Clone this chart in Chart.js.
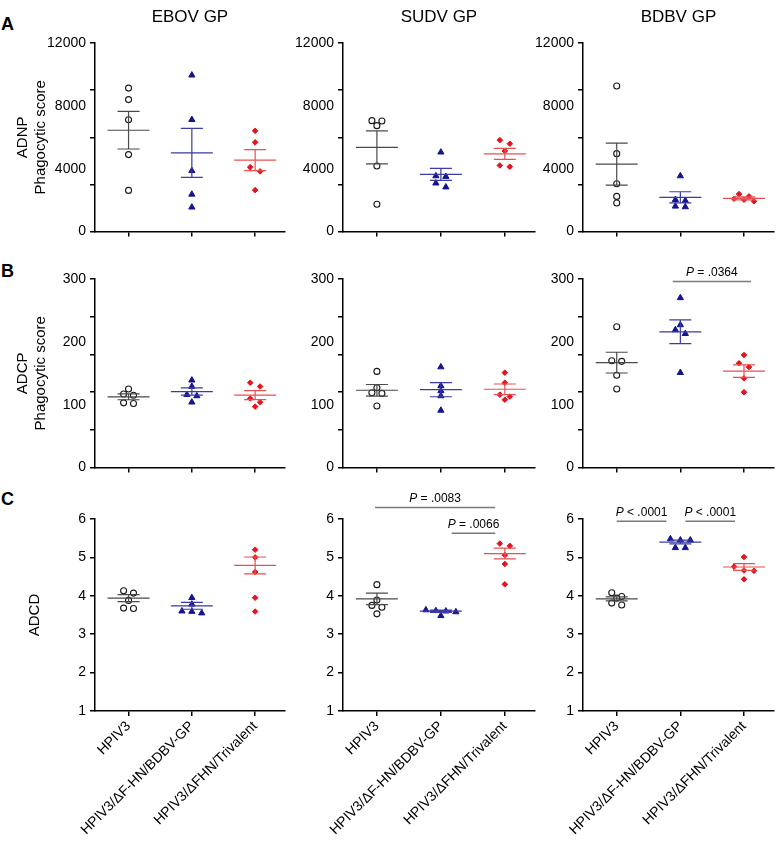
<!DOCTYPE html>
<html>
<head>
<meta charset="utf-8">
<title>ADNP / ADCP / ADCD</title>
<script src="https://cdn.jsdelivr.net/npm/chart.js@4.4.1/dist/chart.umd.min.js"></script>
<style>
  body { margin: 0; background: #fff; }
  #fig { position: relative; width: 779px; height: 841px; overflow: hidden; }
  #fig canvas { position: absolute; }
  .tag { position: absolute; left: 1px; font: bold 18px "Liberation Sans", Arial, sans-serif; }
</style>
</head>
<body>
<div id="fig">
  <div class="tag" style="top:14px">A</div>
  <div class="tag" style="top:261px">B</div>
  <div class="tag" style="top:489px">C</div>

  <canvas id="a1" width="290" height="244" style="left:0px;top:0px"></canvas>
  <canvas id="a2" width="250" height="244" style="left:290px;top:0px"></canvas>
  <canvas id="a3" width="249" height="244" style="left:530px;top:0px"></canvas>
  <canvas id="b1" width="290" height="230" style="left:0px;top:250px"></canvas>
  <canvas id="b2" width="250" height="230" style="left:290px;top:250px"></canvas>
  <canvas id="b3" width="249" height="230" style="left:530px;top:250px"></canvas>
  <canvas id="c1" width="290" height="361" style="left:0px;top:480px"></canvas>
  <canvas id="c2" width="250" height="361" style="left:290px;top:480px"></canvas>
  <canvas id="c3" width="249" height="361" style="left:530px;top:480px"></canvas>
</div>
<script>
Chart.defaults.font.family = '"Liberation Sans", Arial, sans-serif';
Chart.defaults.color = '#000';
Chart.defaults.animation = false;

// groups on the x axis, viruses across the columns
const groupNames = ['HPIV3', 'HPIV3/ΔF-HN/BDBV-GP', 'HPIV3/ΔFHN/Trivalent'];
const virusNames = ['EBOV GP', 'SUDV GP', 'BDBV GP'];

// y axes : labelled values and tick marks (they are not the same on A and B)
const adnpTickLabels = [0, 4000, 8000, 12000];
const adnpTickMarks = [0, 3000, 6000, 9000, 12000];
const adcpTickLabels = [0, 100, 200, 300];
const adcpTickMarks = [0, 60, 120, 180, 240, 300];
const adcdTickLabels = [1, 2, 3, 4, 5, 6];
const adcdTickMarks = [1, 2, 3, 4, 5, 6];

// ADNP phagocytic score (5 animals per group)
const adnpEbov = [[9130, 8400, 7120, 4900, 2620], [9950, 7120, 3870, 2370, 1550], [6410, 5680, 4100, 3830, 2640]];
const adnpEbovMean = [6450, 5010, 4545];
const adnpEbovSem = [1195, 1560, 670];
const adnpSudv = [[7060, 6740, 7040, 4170, 1740], [5050, 3500, 3540, 3080, 2830], [5820, 5590, 5130, 4130, 4210]];
const adnpSudvMean = [5360, 3645, 4945];
const adnpSudvSem = [1050, 380, 355];
const adnpBdbv = [[9260, 4960, 3040, 2240, 1820], [3540, 1970, 2030, 1570, 1610], [2240, 1930, 2090, 2390, 2030]];
const adnpBdbvMean = [4295, 2180, 2115];
const adnpBdbvSem = [1340, 355, 100];

// ADCP phagocytic score
const adcpEbov = [[125, 117, 115, 103, 102], [139, 129, 116, 114, 104], [135, 129, 110, 104, 97]];
const adcpEbovMean = [112.6, 121, 115.2];
const adcpEbovSem = [4.7, 5.8, 7.1];
const adcpSudv = [[153, 127, 119, 118, 98], [160, 130, 122, 114, 91], [151, 135, 116, 113, 108]];
const adcpSudvMean = [123, 124, 124.6];
const adcpSudvSem = [9.2, 11.3, 8.4];
const adcpBdbv = [[224, 169, 170, 147, 125], [270, 227, 219, 213, 151], [179, 166, 160, 142, 120]];
const adcpBdbvMean = [167, 216, 153.4];
const adcpBdbvSem = [16.5, 18.9, 10];

// ADCD
const adcdEbov = [[4.13, 4.07, 3.88, 3.67, 3.68], [3.95, 3.78, 3.60, 3.59, 3.55], [5.20, 5.00, 4.62, 3.95, 3.59]];
const adcdEbovMean = [3.94, 3.74, 4.79];
const adcdEbovSem = [0.09, 0.09, 0.22];
const adcdSudv = [[4.29, 3.89, 3.75, 3.70, 3.53], [3.63, 3.61, 3.60, 3.58, 3.48], [5.36, 5.30, 5.06, 4.83, 4.30]];
const adcdSudvMean = [3.92, 3.60, 5.10];
const adcdSudvSem = [0.15, 0.03, 0.14];
const adcdBdbv = [[4.08, 3.98, 3.94, 3.81, 3.76], [5.45, 5.48, 5.45, 5.25, 5.25], [5.01, 4.76, 4.66, 4.65, 4.43]];
const adcdBdbvMean = [3.92, 5.40, 4.75];
const adcdBdbvSem = [0.05, 0.05, 0.09];

// significance brackets (from / to on the group axis, level on the y axis)
const adcpBdbvP = [{ from: 1.88, to: 3.11, level: 296, op: '=', p: '.0364' }];
const adcdSudvP = [
  { from: 0.97, to: 2.85, level: 6.30, op: '=', p: '.0083' },
  { from: 2.17, to: 2.85, level: 5.63, op: '=', p: '.0066' }
];
const adcdBdbvP = [
  { from: 1.0, to: 1.78, level: 5.94, op: '<', p: '.0001' },
  { from: 2.08, to: 2.86, level: 5.94, op: '<', p: '.0001' }
];

// ---- styles / layout ----
const PLOT_H = 191;   // plot height in px, same on every row
const CAT_PX = 64;    // px between two groups
const ROW_PX = 4.5;   // points closer than this share a row
const STEP_PX = 10;   // horizontal step between points of a row

const markerStyles = [
  { pointStyle: 'circle', pointRadius: 3, pointBackgroundColor: '#fff', pointBorderColor: '#1a1a1a', pointBorderWidth: 1.1 },
  { pointStyle: 'triangle', pointRadius: 3.6, pointBackgroundColor: '#14148f', pointBorderColor: '#14148f', pointBorderWidth: 1 },
  { pointStyle: 'rectRot', pointRadius: 2.8, pointBackgroundColor: '#e4141c', pointBorderColor: '#e4141c', pointBorderWidth: 1 }
];
const meanColors = ['#4a4a4a', '#3b3ba6', '#e85050'];

const rows = [
  { min: 0, max: 12000, labels: adnpTickLabels, marks: adnpTickMarks, title: ['ADNP', 'Phagocytic score'], titlePad: 14, padTop: 0 },
  { min: 0, max: 300, labels: adcpTickLabels, marks: adcpTickMarks, title: ['ADCP', 'Phagocytic score'], titlePad: 14, padTop: 29 },
  { min: 1, max: 6, labels: adcdTickLabels, marks: adcdTickMarks, title: 'ADCD', titlePad: 26, padTop: 39 }
];
const cols = [
  { yWidth: 95, padRight: 3 },
  { yWidth: 53, padRight: 5 },
  { yWidth: 53, padRight: 4 }
];

// simple row-based beeswarm, like the prism scatter dot plot
function swarm(vals, pxPerUnit) {
  const order = vals.map((v, i) => i).sort((a, b) => vals[b] - vals[a]);
  const offs = new Array(vals.length).fill(0);
  let k = 0;
  while (k < order.length) {
    const g = [order[k]];
    let j = k + 1;
    while (j < order.length && (vals[order[k]] - vals[order[j]]) * pxPerUnit < ROW_PX) {
      g.push(order[j]);
      j++;
    }
    g.forEach((idx, n) => { offs[idx] = (n - (g.length - 1) / 2) * STEP_PX / CAT_PX; });
    k = j;
  }
  return offs;
}

// mean line with SEM whiskers
const meanSemPlugin = {
  id: 'meanSem',
  afterDatasetsDraw(chart, args, opts) {
    const { ctx, scales: { x, y } } = chart;
    opts.means.forEach((m, i) => {
      const cx = x.getPixelForValue(i + 1);
      const ym = y.getPixelForValue(m);
      const yt = y.getPixelForValue(m + opts.sems[i]);
      const yb = y.getPixelForValue(m - opts.sems[i]);
      ctx.save();
      ctx.strokeStyle = meanColors[i];
      ctx.lineWidth = 1.2;
      ctx.beginPath();
      ctx.moveTo(cx - 21, ym); ctx.lineTo(cx + 21, ym);
      ctx.moveTo(cx - 11, yt); ctx.lineTo(cx + 11, yt);
      ctx.moveTo(cx - 11, yb); ctx.lineTo(cx + 11, yb);
      ctx.moveTo(cx, yt); ctx.lineTo(cx, yb);
      ctx.stroke();
      ctx.restore();
    });
  }
};

// P value brackets
const pBracketPlugin = {
  id: 'pBrackets',
  afterDraw(chart, args, opts) {
    const { ctx, scales: { x, y } } = chart;
    (opts.items || []).forEach(b => {
      const x0 = x.getPixelForValue(b.from);
      const x1 = x.getPixelForValue(b.to);
      const yy = y.getPixelForValue(b.level);
      ctx.save();
      ctx.strokeStyle = '#7a7a7a';
      ctx.lineWidth = 1.6;
      ctx.beginPath();
      ctx.moveTo(x0, yy); ctx.lineTo(x1, yy);
      ctx.stroke();
      const rest = ' ' + b.op + ' ' + b.p;
      ctx.font = 'italic 12px "Liberation Sans", Arial, sans-serif';
      const wP = ctx.measureText('P').width;
      ctx.font = '12px "Liberation Sans", Arial, sans-serif';
      const wR = ctx.measureText(rest).width;
      const sx = (x0 + x1) / 2 - (wP + wR) / 2;
      ctx.fillStyle = '#000';
      ctx.textBaseline = 'middle';
      ctx.textAlign = 'left';
      ctx.font = 'italic 12px "Liberation Sans", Arial, sans-serif';
      ctx.fillText('P', sx, yy - 9);
      ctx.font = '12px "Liberation Sans", Arial, sans-serif';
      ctx.fillText(rest, sx + wP, yy - 9);
      ctx.restore();
    });
  }
};

function makePanel(id, r, c, values, means, sems, brackets) {
  const row = rows[r];
  const col = cols[c];
  const pxPerUnit = PLOT_H / (row.max - row.min);
  const tickValues = [...new Set([...row.labels, ...row.marks])].sort((a, b) => a - b);
  const isBottom = r === 2;

  const datasets = values.map((vals, g) => {
    const offs = swarm(vals, pxPerUnit);
    return Object.assign({
      label: groupNames[g],
      data: vals.map((v, i) => ({ x: g + 1 + offs[i], y: v }))
    }, markerStyles[g]);
  });

  return new Chart(document.getElementById(id), {
    type: 'scatter',
    data: { datasets },
    options: {
      responsive: false,
      events: [],
      layout: { padding: { top: row.padTop, right: col.padRight, left: 0, bottom: 0 } },
      scales: {
        x: {
          type: 'linear',
          min: 0.47,
          max: 3.47,
          afterBuildTicks: s => { s.ticks = [1, 2, 3].map(v => ({ value: v })); },
          afterFit: s => { s.height = isBottom ? 130 : 10; },
          grid: { drawOnChartArea: false, tickLength: 5, color: '#000', lineWidth: 1.5 },
          border: { color: '#000', width: 1.5 },
          ticks: {
            display: isBottom,
            autoSkip: false,
            maxRotation: 45,
            minRotation: 45,
            padding: 2,
            font: { size: 14 },
            callback: v => groupNames[v - 1]
          }
        },
        y: {
          min: row.min,
          max: row.max,
          afterBuildTicks: s => { s.ticks = tickValues.map(v => ({ value: v })); },
          afterFit: s => { s.width = col.yWidth; },
          grid: {
            drawOnChartArea: false,
            tickLength: 5,
            lineWidth: 1.5,
            tickColor: ctx => (ctx.tick && row.marks.includes(ctx.tick.value)) ? '#000' : 'rgba(0,0,0,0)'
          },
          border: { color: '#000', width: 1.5 },
          ticks: {
            padding: 4,
            font: { size: 14 },
            callback: v => row.labels.includes(v) ? String(v) : ''
          },
          title: {
            display: c === 0,
            text: row.title,
            font: { size: 15 },
            padding: { top: row.titlePad, bottom: 0 }
          }
        }
      },
      plugins: {
        legend: { display: false },
        tooltip: { enabled: false },
        title: {
          display: r === 0,
          text: virusNames[c],
          fullSize: false,
          font: { size: 17, weight: 'normal' },
          color: '#000',
          padding: { top: 7, bottom: 15.6 }
        },
        meanSem: { means, sems },
        pBrackets: { items: brackets || [] }
      }
    },
    plugins: [meanSemPlugin, pBracketPlugin]
  });
}

makePanel('a1', 0, 0, adnpEbov, adnpEbovMean, adnpEbovSem);
makePanel('a2', 0, 1, adnpSudv, adnpSudvMean, adnpSudvSem);
makePanel('a3', 0, 2, adnpBdbv, adnpBdbvMean, adnpBdbvSem);
makePanel('b1', 1, 0, adcpEbov, adcpEbovMean, adcpEbovSem);
makePanel('b2', 1, 1, adcpSudv, adcpSudvMean, adcpSudvSem);
makePanel('b3', 1, 2, adcpBdbv, adcpBdbvMean, adcpBdbvSem, adcpBdbvP);
makePanel('c1', 2, 0, adcdEbov, adcdEbovMean, adcdEbovSem);
makePanel('c2', 2, 1, adcdSudv, adcdSudvMean, adcdSudvSem, adcdSudvP);
makePanel('c3', 2, 2, adcdBdbv, adcdBdbvMean, adcdBdbvSem, adcdBdbvP);
</script>
</body>
</html>
